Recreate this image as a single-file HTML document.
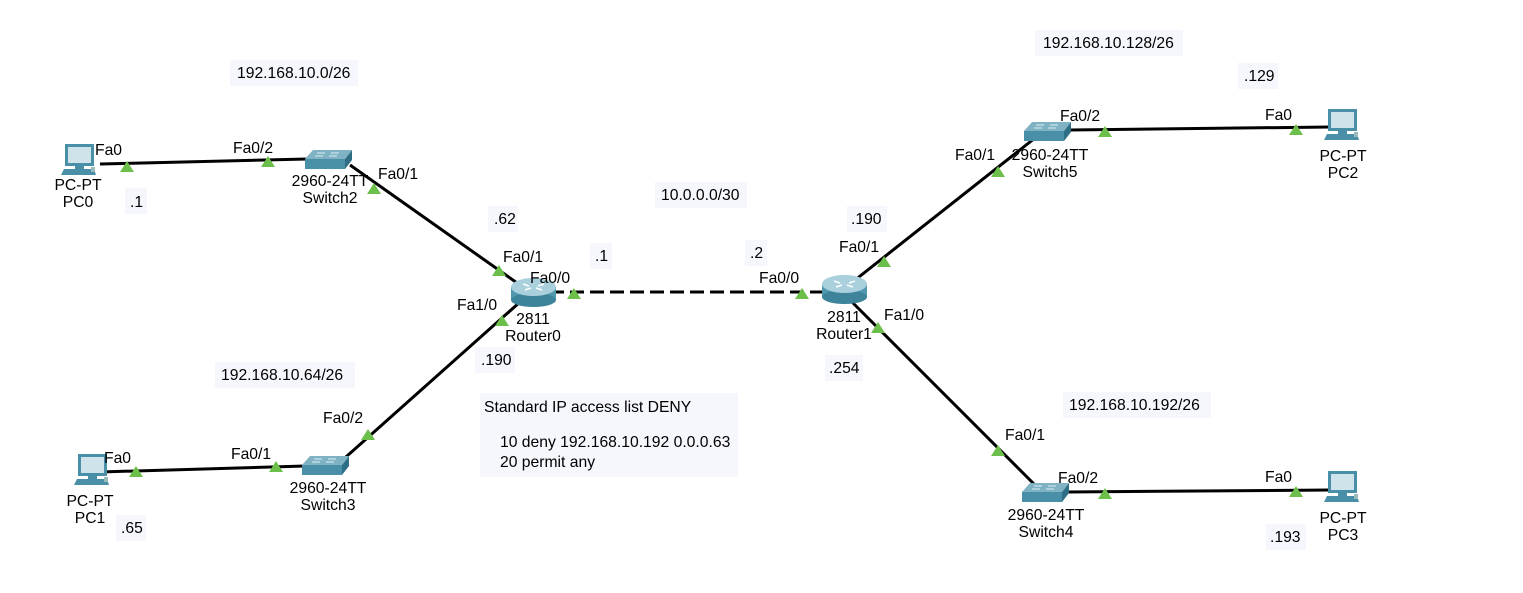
<!DOCTYPE html>
<html><head><meta charset="utf-8"><style>
html,body{margin:0;padding:0;background:#fff;}
svg{display:block;}
text{font-family:"Liberation Sans",Arial,sans-serif;font-size:15.7px;fill:#000;}
.c{text-anchor:middle;}
</style></head><body>
<svg width="1523" height="593" viewBox="0 0 1523 593" xmlns="http://www.w3.org/2000/svg">
<defs>
<g id="pc">
  <rect x="4" y="0" width="29" height="22" fill="#4a8fa8"/>
  <rect x="7" y="3" width="23" height="16" fill="#cfe3ea"/>
  <rect x="14" y="22" width="9" height="3" fill="#4a8fa8"/>
  <polygon points="3,25 33,25 35,31 0,31" fill="#4a8fa8"/>
  <rect x="30" y="23" width="4" height="5" fill="#9bb" />
</g>
<g id="sw">
  <polygon points="8,0 47,0 40,9 0,9" fill="#7fb3c4"/>
  <polygon points="0,9 40,9 40,19 0,19" fill="#4a8fa8"/>
  <polygon points="40,9 47,0 47,10 40,19" fill="#2f6f86"/>
  <path d="M12,3 h8 M26,3 h8 M10,6 h8 M24,6 h8" stroke="#d8eef5" stroke-width="1"/>
</g>
<g id="rt">
  <rect x="0" y="9" width="45" height="13" fill="#4f98ae"/>
  <ellipse cx="22.5" cy="22" rx="22.5" ry="7" fill="#3d8399"/>
  <ellipse cx="22.5" cy="9" rx="22.5" ry="9" fill="#a9d0dc"/>
  <path d="M12,6 l6,2 M33,6 l-6,2 M14,12 l6,-2 M31,12 l-6,-2" stroke="#fff" stroke-width="1.5"/>
</g>
<polygon id="tri" points="0,-6 7,5 -7,5" fill="#6cbf4a"/>
</defs>

<g stroke="#000" stroke-width="3" fill="none">
  <line x1="100" y1="164" x2="307" y2="159"/>
  <line x1="350" y1="165" x2="520" y2="285"/>
  <line x1="520" y1="302" x2="338" y2="464"/>
  <line x1="100" y1="472" x2="305" y2="466"/>
  <line x1="850" y1="284" x2="1035" y2="138"/>
  <line x1="1070" y1="130" x2="1330" y2="127"/>
  <line x1="850" y1="300" x2="1040" y2="490"/>
  <line x1="1068" y1="492" x2="1330" y2="490"/>
  <line x1="550" y1="292" x2="825" y2="292" stroke-dasharray="14,6"/>
</g>

<g fill="#f6f7fc">
  <rect x="230" y="60" width="128" height="26"/>
  <rect x="125" y="188" width="22" height="26"/>
  <rect x="488" y="206" width="30" height="26"/>
  <rect x="590" y="243" width="22" height="26"/>
  <rect x="745" y="240" width="22" height="26"/>
  <rect x="655" y="182" width="92" height="26"/>
  <rect x="475" y="347" width="40" height="26"/>
  <rect x="215" y="362" width="140" height="26"/>
  <rect x="116" y="515" width="30" height="26"/>
  <rect x="480" y="393" width="258" height="84"/>
  <rect x="1035" y="30" width="148" height="26"/>
  <rect x="1238" y="63" width="40" height="26"/>
  <rect x="847" y="206" width="40" height="26"/>
  <rect x="825" y="355" width="38" height="26"/>
  <rect x="1063" y="392" width="148" height="26"/>
  <rect x="1266" y="524" width="40" height="26"/>
</g>

<use href="#pc" x="61" y="144"/>
<use href="#pc" x="74" y="454"/>
<use href="#pc" x="1324" y="109"/>
<use href="#pc" x="1324" y="471"/>
<use href="#sw" x="305" y="150"/>
<use href="#sw" x="302" y="456"/>
<use href="#sw" x="1024" y="122"/>
<use href="#sw" x="1022" y="483"/>
<use href="#rt" x="511" y="278"/>
<use href="#rt" x="822" y="275"/>

<use href="#tri" x="127" y="167"/>
<use href="#tri" x="268" y="162"/>
<use href="#tri" x="374" y="189"/>
<use href="#tri" x="499" y="271"/>
<use href="#tri" x="574" y="294"/>
<use href="#tri" x="502" y="321"/>
<use href="#tri" x="368" y="435"/>
<use href="#tri" x="136" y="472"/>
<use href="#tri" x="276" y="467"/>
<use href="#tri" x="802" y="294"/>
<use href="#tri" x="884" y="262"/>
<use href="#tri" x="878" y="328"/>
<use href="#tri" x="998" y="172"/>
<use href="#tri" x="1105" y="132"/>
<use href="#tri" x="1296" y="130"/>
<use href="#tri" x="998" y="451"/>
<use href="#tri" x="1105" y="494"/>
<use href="#tri" x="1296" y="492"/>

<text x="237" y="78">192.168.10.0/26</text>
<text x="130" y="207">.1</text>
<text x="494" y="224">.62</text>
<text x="595" y="261">.1</text>
<text x="750" y="258">.2</text>
<text x="661" y="200">10.0.0.0/30</text>
<text x="481" y="365">.190</text>
<text x="221" y="380">192.168.10.64/26</text>
<text x="121" y="533">.65</text>
<text x="484" y="412">Standard IP access list DENY</text>
<text x="500" y="447">10 deny 192.168.10.192 0.0.0.63</text>
<text x="500" y="467">20 permit any</text>
<text x="1043" y="48">192.168.10.128/26</text>
<text x="1244" y="81">.129</text>
<text x="851" y="224">.190</text>
<text x="829" y="373">.254</text>
<text x="1069" y="410">192.168.10.192/26</text>
<text x="1270" y="542">.193</text>

<text x="95" y="155">Fa0</text>
<text x="233" y="153">Fa0/2</text>
<text x="378" y="179">Fa0/1</text>
<text x="503" y="262">Fa0/1</text>
<text x="530" y="283">Fa0/0</text>
<text x="457" y="310">Fa1/0</text>
<text x="323" y="423">Fa0/2</text>
<text x="104" y="463">Fa0</text>
<text x="231" y="459">Fa0/1</text>
<text x="759" y="283">Fa0/0</text>
<text x="839" y="252">Fa0/1</text>
<text x="884" y="320">Fa1/0</text>
<text x="955" y="160">Fa0/1</text>
<text x="1060" y="121">Fa0/2</text>
<text x="1265" y="120">Fa0</text>
<text x="1005" y="440">Fa0/1</text>
<text x="1058" y="483">Fa0/2</text>
<text x="1265" y="482">Fa0</text>

<text class="c" x="78" y="190">PC-PT</text>
<text class="c" x="78" y="207">PC0</text>
<text class="c" x="90" y="506">PC-PT</text>
<text class="c" x="90" y="523">PC1</text>
<text class="c" x="1343" y="161">PC-PT</text>
<text class="c" x="1343" y="178">PC2</text>
<text class="c" x="1343" y="523">PC-PT</text>
<text class="c" x="1343" y="540">PC3</text>
<text class="c" x="330" y="186">2960-24TT</text>
<text class="c" x="330" y="203">Switch2</text>
<text class="c" x="328" y="493">2960-24TT</text>
<text class="c" x="328" y="510">Switch3</text>
<text class="c" x="1050" y="160">2960-24TT</text>
<text class="c" x="1050" y="177">Switch5</text>
<text class="c" x="1046" y="520">2960-24TT</text>
<text class="c" x="1046" y="537">Switch4</text>
<text class="c" x="533" y="324">2811</text>
<text class="c" x="533" y="341">Router0</text>
<text class="c" x="844" y="322">2811</text>
<text class="c" x="844" y="339">Router1</text>
</svg>
</body></html>
